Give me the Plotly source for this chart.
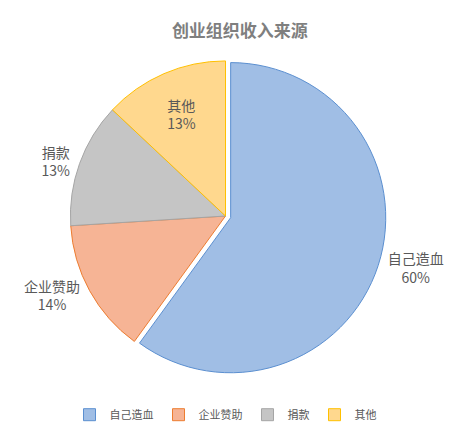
import plotly.graph_objects as go

# 创业组织收入来源
labels = ['自己造血', '企业赞助', '捐款', '其他']
values = [60, 14, 13, 13]
fill_colors = ['#A0BEE5', '#F6B495', '#C5C5C5', '#FFD88E']
line_colors = ['#5B8FD0', '#ED7D31', '#A5A5A5', '#FFC000']
text_pos = ['outside', 'outside', 'outside', 'inside']
pulls = [0.035, 0, 0, 0]

font_family = 'Noto Sans CJK SC, Microsoft YaHei, sans-serif'

trace = go.Pie(
    labels=labels,
    values=values,
    sort=False,
    direction='clockwise',
    rotation=0,
    pull=pulls,
    marker=dict(colors=fill_colors, line=dict(color=line_colors, width=1)),
    texttemplate='%{label}<br>%{percent:.0%}',
    textposition=text_pos,
    textfont=dict(family=font_family, size=14, color='#595959'),
    insidetextorientation='horizontal',
    hoverinfo='label+percent',
)

layout = go.Layout(
    width=452,
    height=430,
    title=dict(text='<b>创业组织收入来源</b>', x=0.513, xanchor='center', y=0.96,
               font=dict(family=font_family, size=17, color='#7F7F7F')),
    margin=dict(l=9, r=39, t=45, b=57),
    paper_bgcolor='white',
    plot_bgcolor='white',
    showlegend=True,
    legend=dict(orientation='h', x=0.5, xanchor='center', y=-0.065, yanchor='top',
                font=dict(family=font_family, size=11, color='#595959'),
                itemwidth=30, tracegroupgap=0),
)

fig = go.Figure(data=[trace], layout=layout)
fig.write_html('out.html')
